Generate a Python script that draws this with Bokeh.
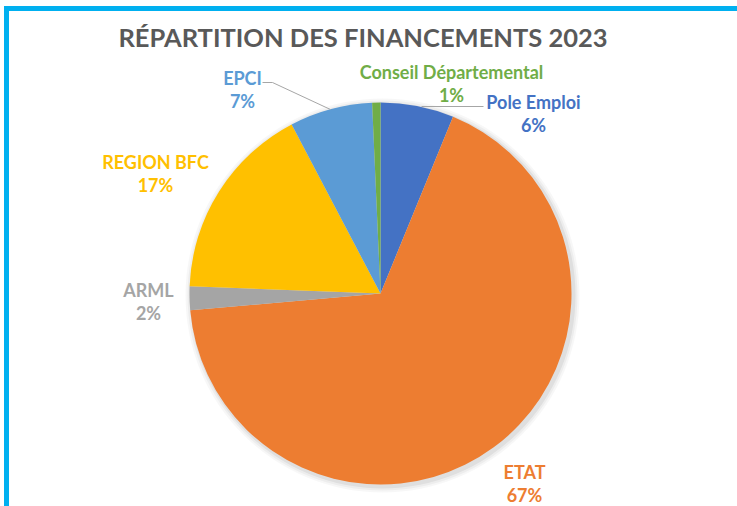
import math
from bokeh.plotting import figure
from bokeh.models import Range1d
from bokeh.core.properties import value
from bokeh.embed import file_html
from bokeh.resources import INLINE

# ---- data (clockwise from 12 o'clock) ----
categories = ["Pole Emploi", "ETAT", "ARML", "REGION BFC", "EPCI", "Conseil Départemental"]
shares = [6.2, 67.4, 2.0, 16.7, 7.0, 0.7]
colors = ["#4472C4", "#ED7D31", "#A5A5A5", "#FFC000", "#5B9BD5", "#70AD47"]
title_text = "RÉPARTITION DES FINANCEMENTS 2023"

# ---- layout (page pixel coordinates) ----
W, H = 737, 506
CX, CY, R = 380, 293, 191
label_pos = [(533, 101), (524, 471), (148, 289), (155, 161), (242, 77), (451, 71)]
LINE_GAP = 23

def py(y):
    return H - y

p = figure(width=W, height=H, output_backend="svg", toolbar_location=None,
           x_axis_type=None, y_axis_type=None, title=None,
           min_border_left=0, min_border_top=0, min_border_right=0, min_border_bottom=0,
           x_range=Range1d(0, W), y_range=Range1d(0, H))
p.border_fill_color = "white"
p.background_fill_color = "white"
p.outline_line_color = None
p.grid.visible = False

# cyan frame (top and left edges)
BORDER = "#00B0F0"
p.quad(left=[3.5], right=[W], top=[py(5.5)], bottom=[py(10.5)], fill_color=BORDER, line_color=None)
p.quad(left=[3.5], right=[8.5], top=[py(5.5)], bottom=[0], fill_color=BORDER, line_color=None)

# soft shadow
for dr, a in [(6, 0.03), (4, 0.04), (2, 0.06)]:
    p.circle(x=[CX + 2], y=[py(CY) - 2], radius=R + dr, fill_color="black",
             fill_alpha=a, line_color=None)

total = sum(shares)
starts, ends = [], []
cum = 0.0
for s in shares:
    a0 = math.pi / 2 - 2 * math.pi * cum / total
    cum += s
    a1 = math.pi / 2 - 2 * math.pi * cum / total
    starts.append(a0)
    ends.append(a1)

p.wedge(x=[CX] * len(shares), y=[py(CY)] * len(shares), radius=R,
        start_angle=starts, end_angle=ends, direction="clock",
        fill_color=colors, line_color=None)

# leader lines
p.line(x=[421, 483], y=[py(106), py(106)], line_color="#A6A6A6", line_width=1)
p.line(x=[262, 272, 330], y=[py(82), py(82), py(109)], line_color="#A6A6A6", line_width=1)

# labels
for name, s, c, (lx, ly) in zip(categories, shares, colors, label_pos):
    p.text(x=[lx], y=[py(ly)], text=[name], text_color=c, text_align="center",
           text_baseline="middle", text_font=value("Lato"), text_font_style="bold",
           text_font_size="18px")
    p.text(x=[lx], y=[py(ly + LINE_GAP)], text=[f"{round(s)}%"], text_color=c,
           text_align="center", text_baseline="middle", text_font=value("Lato"),
           text_font_style="bold", text_font_size="18px")

# title
p.text(x=[362.5], y=[py(36)], text=[title_text], text_color="#595959",
       text_align="center", text_baseline="middle", text_font=value("Lato"),
       text_font_style="bold", text_font_size="25.5px")

open("out.html", "w").write(file_html(p, INLINE))
